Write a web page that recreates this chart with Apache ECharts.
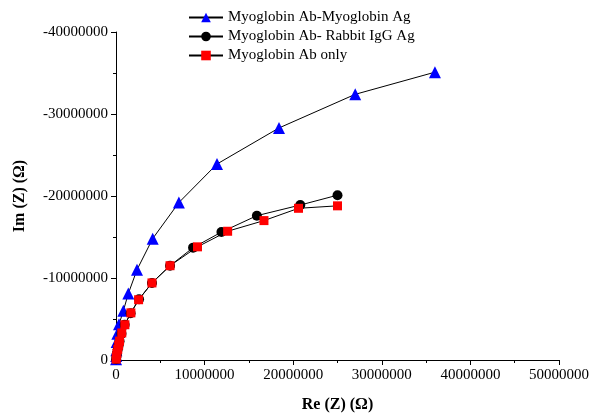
<!DOCTYPE html>
<html>
<head>
<meta charset="utf-8">
<script src="https://cdn.jsdelivr.net/npm/echarts@6/dist/echarts.min.js"></script>
<style>html,body{margin:0;padding:0;background:#fff}#c{width:592px;height:414px}</style>
</head>
<body>
<div id="c"></div>
<script>
const seriesNames = ['Myoglobin Ab-Myoglobin Ag', 'Myoglobin Ab- Rabbit IgG Ag', 'Myoglobin Ab only'];
// Re(Z) values (ohm)
const reMyoAg = [10000, 20000, 40000, 80000, 150000, 340000, 830000, 1390000, 2370000, 4140000, 7100000, 11400000, 18400000, 27000000, 36000000];
const imMyoAg = [-100000, -500000, -1200000, -2200000, -3200000, -4350000, -6000000, -8100000, -11000000, -14800000, -19200000, -23900000, -28300000, -32400000, -35100000];
const reIgG = [20000, 50000, 100000, 200000, 300000, 400000, 620000, 980000, 1650000, 2600000, 4060000, 6100000, 8700000, 11900000, 15900000, 20800000, 25000000];
const imIgG = [-100000, -400000, -800000, -1300000, -1800000, -2300000, -3200000, -4300000, -5700000, -7400000, -9400000, -11500000, -13700000, -15600000, -17600000, -18900000, -20100000];
const reOnly = [20000, 50000, 100000, 200000, 300000, 400000, 650000, 1000000, 1680000, 2550000, 4060000, 6100000, 9200000, 12600000, 16700000, 20600000, 25000000];
const imOnly = [-100000, -400000, -800000, -1300000, -1800000, -2300000, -3300000, -4300000, -5750000, -7350000, -9400000, -11500000, -13800000, -15700000, -17000000, -18500000, -18800000];
const xTicks = [0, 10000000, 20000000, 30000000, 40000000, 50000000];
const yTicks = [0, -10000000, -20000000, -30000000, -40000000];

const pairs = (a, b) => a.map((v, i) => [v, b[i]]);
const font = 'Liberation Serif';
const chart = echarts.init(document.getElementById('c'), null, {renderer: 'canvas'});
const axisCommon = {
  axisLine: {show: true, lineStyle: {color: '#000', width: 1}},
  axisTick: {show: true, inside: false, length: 5, lineStyle: {color: '#000'}},
  minorTick: {show: true, splitNumber: 2, length: 3, lineStyle: {color: '#000'}},
  splitLine: {show: false},
  axisLabel: {color: '#000', fontFamily: font, fontSize: 15, formatter: v => String(v === 0 ? 0 : v)},
  nameTextStyle: {color: '#000', fontFamily: font, fontSize: 16, fontWeight: 'bold'}
};
chart.setOption({
  animation: false,
  backgroundColor: '#fff',
  grid: {left: 116, right: 33, top: 32, bottom: 54, containLabel: false, outerBoundsMode: 'none'},
  legend: {
    orient: 'vertical', left: 188, top: 10, padding: 0, itemWidth: 34, itemHeight: 12, itemGap: 4,
    textStyle: {color: '#000', fontFamily: font, fontSize: 15, lineHeight: 15},
    data: seriesNames
  },
  xAxis: Object.assign({}, axisCommon, {
    type: 'value', min: xTicks[0], max: xTicks[xTicks.length - 1], interval: 10000000,
    name: 'Re (Z) (Ω)', nameLocation: 'middle', nameGap: 37,
    axisLabel: Object.assign({}, axisCommon.axisLabel, {margin: 8})
  }),
  yAxis: Object.assign({}, axisCommon, {
    type: 'value', min: yTicks[yTicks.length - 1], max: yTicks[0], interval: 10000000, inverse: true,
    name: 'Im (Z) (Ω)', nameLocation: 'middle', nameGap: 88,
    axisLabel: Object.assign({}, axisCommon.axisLabel, {margin: 8})
  }),
  series: [
    {name: seriesNames[0], type: 'line', data: pairs(reMyoAg, imMyoAg), symbol: 'triangle', symbolSize: 12,
     itemStyle: {color: '#0000ff'}, lineStyle: {color: '#000', width: 1}, z: 2},
    {name: seriesNames[1], type: 'line', data: pairs(reIgG, imIgG), symbol: 'circle', symbolSize: 10,
     itemStyle: {color: '#000'}, lineStyle: {color: '#000', width: 1}, z: 3},
    {name: seriesNames[2], type: 'line', data: pairs(reOnly, imOnly), symbol: 'rect', symbolSize: 9,
     itemStyle: {color: '#ff0000'}, lineStyle: {color: '#000', width: 1}, z: 4}
  ]
});
</script>
</body>
</html>
